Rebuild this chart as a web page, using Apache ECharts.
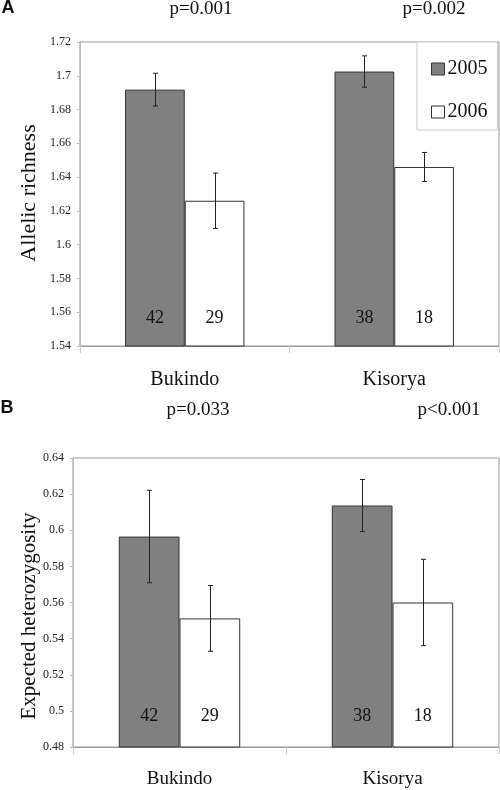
<!DOCTYPE html>
<html>
<head>
<meta charset="utf-8">
<script src="https://cdn.jsdelivr.net/npm/echarts@6/dist/echarts.min.js"></script>
<style>
html,body{margin:0;padding:0;background:#fff;}
#chart{width:500px;height:790px;}
</style>
</head>
<body>
<div id="chart"></div>
<script>
// ---- data ----
const sites = ['Bukindo', 'Kisorya'];
const years = ['2005', '2006'];
// Panel A: allelic richness
const richness2005 = [1.6918, 1.7025];
const richness2006 = [1.626, 1.646];
const richnessErr2005 = [0.0097, 0.0093];
const richnessErr2006 = [0.0164, 0.0086];
// Panel B: expected heterozygosity
const hetero2005 = [0.5965, 0.6137];
const hetero2006 = [0.5512, 0.5600];
const heteroErr2005 = [0.0256, 0.0144];
const heteroErr2006 = [0.0182, 0.0239];
// sample sizes
const counts2005 = [42, 38];
const counts2006 = [29, 18];
// p-values
const pA = ['p=0.001', 'p=0.002'];
const pB = ['p=0.033', 'p<0.001'];
// axis ticks
const yA = {min: 1.54, max: 1.72, interval: 0.02};
const yB = {min: 0.48, max: 0.64, interval: 0.02};

const SERIF = '"Liberation Serif", "Times New Roman", serif';
const SANS = '"Liberation Sans", Arial, sans-serif';
const GAP = 0.43;

const chart = echarts.init(document.getElementById('chart'), null, {renderer: 'canvas'});

function errData(means, errs, si) {
  return means.map((m, i) => [i, m, errs[i], si]);
}
function errSeries(xi, data) {
  return {
    type: 'custom',
    xAxisIndex: xi, yAxisIndex: xi,
    z: 5,
    silent: true,
    renderItem: function (params, api) {
      const ci = api.value(0), m = api.value(1), e = api.value(2), si = api.value(3);
      const band = api.size([1, 0])[0];
      const w = band * (1 - GAP) / 2;
      const c = api.coord([ci, m]);
      const x = Math.round(c[0] + (si === 0 ? -w / 2 : w / 2)) + 0.5;
      const top = api.coord([ci, m + e])[1];
      const bot = api.coord([ci, m - e])[1];
      const cap = 2.5;
      const st = {stroke: '#222', lineWidth: 1};
      return {
        type: 'group',
        children: [
          {type: 'line', shape: {x1: x, y1: top, x2: x, y2: bot}, style: st},
          {type: 'line', shape: {x1: x - cap, y1: top, x2: x + cap, y2: top}, style: st},
          {type: 'line', shape: {x1: x - cap, y1: bot, x2: x + cap, y2: bot}, style: st}
        ]
      };
    },
    data: data
  };
}
function barSeries(name, xi, values, counts, color, dist) {
  return {
    name: name,
    type: 'bar',
    xAxisIndex: xi, yAxisIndex: xi,
    barGap: '0%',
    barCategoryGap: (GAP * 100) + '%',
    itemStyle: {color: color, borderColor: '#333', borderWidth: 1},
    label: {
      show: true,
      position: 'insideBottom',
      distance: dist,
      fontFamily: SERIF,
      fontSize: 18,
      color: '#111',
      formatter: p => String(counts[p.dataIndex])
    },
    emphasis: {disabled: true},
    data: values
  };
}
function xAxisCfg(gi, fs, margin) {
  return {
    type: 'category', gridIndex: gi, data: sites,
    axisLine: {lineStyle: {color: '#999'}},
    axisTick: {show: true, length: 7, lineStyle: {color: '#ccc'}},
    axisLabel: {fontFamily: SERIF, fontSize: fs, color: '#111', margin: margin}
  };
}
function yAxisCfg(gi, r) {
  return {
    type: 'value', gridIndex: gi, min: r.min, max: r.max, interval: r.interval,
    axisLine: {show: true, lineStyle: {color: '#bbb'}},
    axisTick: {show: true, length: 3, lineStyle: {color: '#bbb'}},
    splitLine: {show: false},
    axisLabel: {fontFamily: SERIF, fontSize: 12, color: '#222', margin: 9}
  };
}
function txt(x, y, s, font, size, weight, rot) {
  return {
    type: 'text', x: x, y: y, rotation: rot || 0,
    style: {text: s, fontFamily: font, fontSize: size, fontWeight: weight || 'normal',
      fill: '#111', align: 'center', verticalAlign: 'middle'}
  };
}

const option = {
  animation: false,
  backgroundColor: '#fff',
  grid: [
    {left: 80, top: 42, width: 419, height: 304, show: true, borderColor: '#999', borderWidth: 1, backgroundColor: 'transparent'},
    {left: 73, top: 458, width: 426, height: 289, show: true, borderColor: '#999', borderWidth: 1, backgroundColor: 'transparent'}
  ],
  legend: {
    data: years,
    orient: 'vertical',
    left: 417, top: 42,
    padding: [17, 10, 8, 14],
    itemGap: 23,
    itemWidth: 13, itemHeight: 12,
    icon: 'rect',
    itemStyle: {borderColor: '#333', borderWidth: 1},
    backgroundColor: '#fff',
    borderColor: '#ccc', borderWidth: 1,
    selectedMode: false,
    textStyle: {fontFamily: SERIF, fontSize: 20, color: '#111', padding: [0, 0, 0, -2]}
  },
  xAxis: [xAxisCfg(0, 20, 24), xAxisCfg(1, 19, 23)],
  yAxis: [yAxisCfg(0, yA), yAxisCfg(1, yB)],
  series: [
    barSeries('2005', 0, richness2005, counts2005, '#808080', 19),
    barSeries('2006', 0, richness2006, counts2006, '#ffffff', 19),
    barSeries('2005', 1, hetero2005, counts2005, '#808080', 22),
    barSeries('2006', 1, hetero2006, counts2006, '#ffffff', 22),
    errSeries(0, errData(richness2005, richnessErr2005, 0).concat(errData(richness2006, richnessErr2006, 1))),
    errSeries(1, errData(hetero2005, heteroErr2005, 0).concat(errData(hetero2006, heteroErr2006, 1)))
  ],
  graphic: [
    txt(8, 8, 'A', SANS, 18, 'bold'),
    txt(7, 408, 'B', SANS, 18, 'bold'),
    txt(201, 9, pA[0], SERIF, 19),
    txt(434, 9, pA[1], SERIF, 19),
    txt(198, 410, pB[0], SERIF, 19),
    txt(449, 410, pB[1], SERIF, 19),
    txt(29, 193, 'Allelic richness', SERIF, 22, 'normal', Math.PI / 2),
    txt(29, 616, 'Expected heterozygosity', SERIF, 21, 'normal', Math.PI / 2)
  ]
};
chart.setOption(option);
</script>
</body>
</html>
